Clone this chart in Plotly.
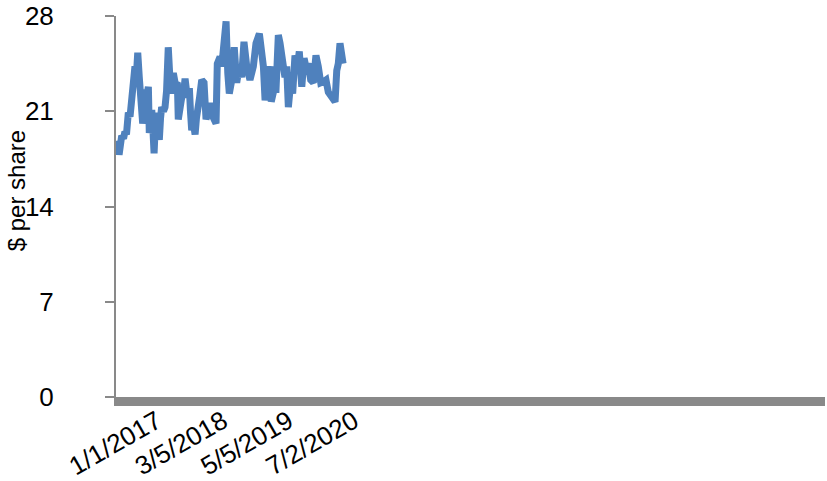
import plotly.graph_objects as go

# Daily closing price samples ($ per share)
dates = [
    "2016-04-17", "2016-04-23", "2016-04-30", "2016-05-06", "2016-05-17", "2016-05-29",
    "2016-06-07", "2016-06-17", "2016-06-29", "2016-07-10", "2016-07-21", "2016-07-31",
    "2016-08-11", "2016-08-20", "2016-08-29", "2016-09-08", "2016-09-17", "2016-09-30",
    "2016-10-09", "2016-10-15", "2016-10-25", "2016-11-06", "2016-11-12", "2016-11-20",
    "2016-11-28", "2016-12-06", "2016-12-13", "2016-12-19", "2016-12-26", "2017-01-04",
    "2017-01-16", "2017-01-24", "2017-01-31", "2017-02-12", "2017-02-22", "2017-03-04",
    "2017-03-15", "2017-03-23", "2017-03-31", "2017-04-08", "2017-04-17", "2017-04-30",
    "2017-05-13", "2017-05-19", "2017-05-30", "2017-06-10", "2017-06-22", "2017-07-02",
    "2017-07-17", "2017-07-30", "2017-08-06", "2017-08-14", "2017-08-24", "2017-09-05",
    "2017-09-14", "2017-09-22", "2017-10-04", "2017-10-18", "2017-11-02", "2017-11-15",
    "2017-11-28", "2017-12-11", "2017-12-21", "2018-01-01", "2018-01-19", "2018-01-27",
    "2018-02-14", "2018-02-25", "2018-03-12", "2018-03-25", "2018-04-05", "2018-04-15",
    "2018-05-01", "2018-05-17", "2018-06-02", "2018-06-19", "2018-07-04", "2018-07-19",
    "2018-08-06", "2018-08-27", "2018-09-18", "2018-10-05", "2018-10-27", "2018-11-11",
    "2018-11-22", "2018-12-03", "2018-12-18", "2019-01-04", "2019-01-12", "2019-01-30",
    "2019-02-12", "2019-02-27", "2019-03-10", "2019-03-27", "2019-04-11", "2019-04-22",
    "2019-05-03", "2019-05-18", "2019-05-31", "2019-06-15", "2019-06-30", "2019-07-13",
    "2019-07-29", "2019-08-13", "2019-08-26", "2019-09-09", "2019-09-25", "2019-10-12",
    "2019-10-29", "2019-11-13", "2019-11-29", "2019-12-20", "2020-01-02", "2020-01-17",
    "2020-02-08", "2020-03-01", "2020-03-12", "2020-03-22", "2020-04-02", "2020-04-12",
    "2020-04-22",
]
prices = [
    18.2, 18.8, 17.8, 18.6, 19.2, 19.0,
    19.5, 19.3, 20.9, 20.6, 21.8, 23.4,
    24.3, 23.6, 25.3, 23.5, 21.1, 20.1,
    21.0, 22.6, 22.0, 22.8, 19.4, 20.5,
    21.1, 19.5, 17.9, 19.5, 20.9, 19.8,
    18.9, 20.5, 21.3, 21.0, 21.3, 22.5,
    25.7, 24.0, 22.3, 23.2, 23.8, 23.0,
    23.1, 20.4, 21.5, 22.0, 22.3, 23.4,
    22.0, 22.7, 21.0, 19.6, 20.2, 19.3,
    20.5, 21.8, 22.0, 23.3, 23.1, 20.4,
    21.0, 21.6, 20.8, 20.4, 20.1, 24.5,
    25.0, 24.3, 27.0, 27.6, 23.8, 22.3,
    23.3, 25.7, 23.1, 24.3, 23.5, 26.1,
    24.3, 23.3, 24.3, 26.0, 26.7, 25.7,
    24.3, 21.8, 23.1, 24.3, 21.7, 22.6,
    22.6, 26.6, 26.0, 24.8, 23.5, 24.3,
    21.3, 23.1, 22.3, 25.1, 24.3, 25.4,
    22.8, 24.9, 24.2, 24.5, 23.3, 23.1,
    25.1, 24.3, 23.1, 23.2, 23.3, 22.4,
    22.0, 21.7, 24.0, 24.5, 26.0, 25.3,
    24.5,
]

# Axis setup
x_range = ["2016-04-10", "2028-11-12"]
x_tick_vals = ["2017-01-01", "2018-03-05", "2019-05-05", "2020-07-02"]
x_tick_text = ["1/1/2017", "3/5/2018", "5/5/2019", "7/2/2020"]
y_tick_vals = [0, 7, 14, 21, 28]

axis_gray = "#898989"
font_family = "Liberation Sans, Arial, sans-serif"

fig = go.Figure(
    go.Scatter(
        x=dates,
        y=prices,
        mode="lines",
        line=dict(color="#4F81BD", width=7),
        hoverinfo="x+y",
    )
)

fig.update_layout(
    width=827,
    height=481,
    margin=dict(l=116, r=2, t=16, b=84),
    paper_bgcolor="white",
    plot_bgcolor="white",
    showlegend=False,
    font=dict(family=font_family, size=26, color="#000000"),
)

fig.update_xaxes(
    type="date",
    range=x_range,
    automargin=False,
    tickmode="array",
    tickvals=x_tick_vals,
    ticktext=x_tick_text,
    tickangle=-30,
    ticks="",
    ticklabelshift=0,
    ticklabelstandoff=-10,
    showgrid=False,
    zeroline=False,
    showline=True,
    linecolor=axis_gray,
    linewidth=9,
    tickfont=dict(size=26),
)

fig.update_yaxes(
    range=[0, 28],
    automargin=False,
    tickmode="array",
    tickvals=y_tick_vals,
    ticks="outside",
    ticklen=9,
    tickwidth=2,
    tickcolor=axis_gray,
    ticklabelstandoff=46,
    showgrid=False,
    zeroline=False,
    showline=True,
    linecolor=axis_gray,
    linewidth=2,
    tickfont=dict(size=26),
)

fig.add_annotation(
    text="$ per share",
    textangle=-90,
    xref="paper",
    yref="paper",
    x=-100 / 709,
    y=0.54,
    xanchor="center",
    yanchor="middle",
    showarrow=False,
    font=dict(size=24),
)

fig.write_html("out.html")
